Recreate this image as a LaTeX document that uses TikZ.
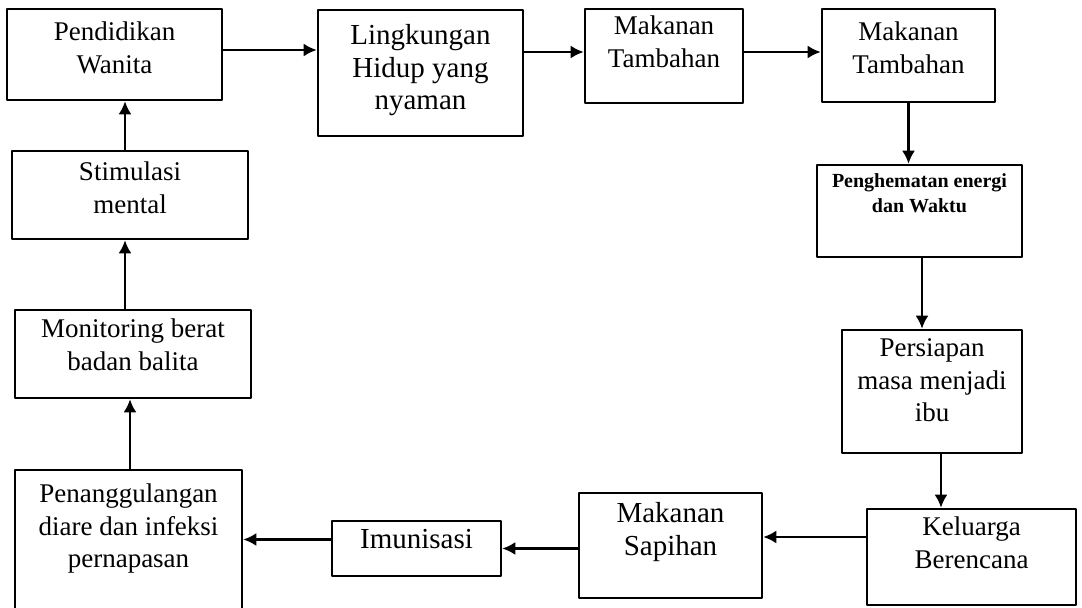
\documentclass[tikz,border=0pt]{standalone}
\usepackage{fontspec}
\setmainfont{Liberation Serif}
\usetikzlibrary{arrows.meta}

\begin{document}
\begin{tikzpicture}[>={Latex[length=6.5bp,width=6.5bp]},line join=bevel,
  box/.style={draw,line width=1.3bp,inner sep=0pt},
  txt/.style={anchor=north,align=center,inner sep=0pt,font=\fontsize{13.5bp}{16.2bp}\selectfont},
  conn/.style={->,line width=1.1bp}]
\useasboundingbox (0bp,0bp) rectangle (541bp,304bp);
%%
\node (pend) at (57.25bp,276.75bp) [box,minimum width=107.5bp,minimum height=45.5bp] {};
  \node (ling) at (210.25bp,267.5bp) [box,minimum width=102.5bp,minimum height=63bp] {};
  \node (mak_1) at (332bp,276bp) [box,minimum width=79bp,minimum height=47bp] {};
  \node (mak_2) at (454.25bp,276.25bp) [box,minimum width=86.5bp,minimum height=46.5bp] {};
  \node (hemat) at (459.75bp,198.5bp) [box,minimum width=102.5bp,minimum height=46bp] {};
  \node (siap) at (466bp,108.25bp) [box,minimum width=90bp,minimum height=61.5bp] {};
  \node (kb) at (485.75bp,25.5bp) [box,minimum width=104.5bp,minimum height=48bp] {};
  \node (sapih) at (335.25bp,31.25bp) [box,minimum width=91.5bp,minimum height=52.5bp] {};
  \node (imun) at (208.25bp,29.75bp) [box,minimum width=84.5bp,minimum height=27.5bp] {};
  \node (diare) at (64.25bp,33.5bp) [box,minimum width=113.5bp,minimum height=71bp] {};
  \node (monitor) at (66.5bp,127bp) [box,minimum width=118bp,minimum height=44bp] {};
  \node (stimul) at (65bp,206.5bp) [box,minimum width=118bp,minimum height=44bp] {};
%
\node (pend_t) at ([yshift=-7bp]pend.north) [txt] {Pendidikan\\Wanita};
  \node (ling_t) at ([yshift=-7.5bp]ling.north) [txt,font=\fontsize{14.5bp}{16.4bp}\selectfont] {Lingkungan\\Hidup yang\\nyaman};
  \node (mak_1_t) at ([yshift=-4bp]mak_1.north) [txt] {Makanan\\Tambahan};
  \node (mak_2_t) at ([yshift=-7bp]mak_2.north) [txt] {Makanan\\Tambahan};
  \node (hemat_t) at ([yshift=-5bp]hemat.north) [txt,font=\fontsize{10bp}{12.5bp}\selectfont\bfseries] {Penghematan energi\\dan Waktu};
  \node (siap_t) at ([yshift=-5bp]siap.north) [txt] {Persiapan\\masa menjadi\\ibu};
  \node (kb_t) at ([yshift=-4.5bp]kb.north) [txt] {Keluarga\\Berencana};
  \node (sapih_t) at ([yshift=-5bp]sapih.north) [txt,font=\fontsize{14.5bp}{16.4bp}\selectfont] {Makanan\\Sapihan};
  \node (imun_t) at ([yshift=-4.5bp]imun.north) [txt,font=\fontsize{14.5bp}{16.4bp}\selectfont] {Imunisasi};
  \node (diare_t) at ([yshift=-7.5bp]diare.north) [txt] {Penanggulangan\\diare dan infeksi\\pernapasan};
  \node (monitor_t) at ([yshift=-5bp]monitor.north) [txt] {Monitoring berat\\badan balita};
  \node (stimul_t) at ([yshift=-6bp]stimul.north) [txt] {Stimulasi\\mental};
%
\draw [conn] ([yshift=2.25bp]pend.east) -- ([yshift=2.25bp]pend.east -| ling.west);
  \draw [conn] ([yshift=2bp]mak_1.west -| ling.east) -- ([yshift=2bp]mak_1.west);
  \draw [conn] ([yshift=2bp]mak_1.east) -- ([yshift=2bp]mak_1.east -| mak_2.west);
  \draw [conn] (mak_2.south) -- (mak_2.south |- hemat.north);
  \draw [conn] ([xshift=1.25bp]hemat.south) -- ([xshift=1.25bp]hemat.south |- siap.north);
  \draw [conn] ([xshift=4.5bp]siap.south) -- ([xshift=4.5bp]siap.south |- kb.north);
  \draw [conn] ([yshift=10bp]kb.west) -- ([yshift=10bp]kb.west -| sapih.east);
  \draw [conn] (imun.east -| sapih.west) -- (imun.east);
  \draw [conn] ([yshift=4.5bp]imun.west) -- ([yshift=4.5bp]imun.west -| diare.east);
  \draw [conn] ([xshift=0.75bp]diare.north) -- ([xshift=0.75bp]diare.north |- monitor.south);
  \draw [conn] ([xshift=-4bp]monitor.north) -- ([xshift=-4bp]monitor.north |- stimul.south);
  \draw [conn] ([xshift=-2.5bp]stimul.north) -- ([xshift=-2.5bp]stimul.north |- pend.south);
%
\end{tikzpicture}
\end{document}
